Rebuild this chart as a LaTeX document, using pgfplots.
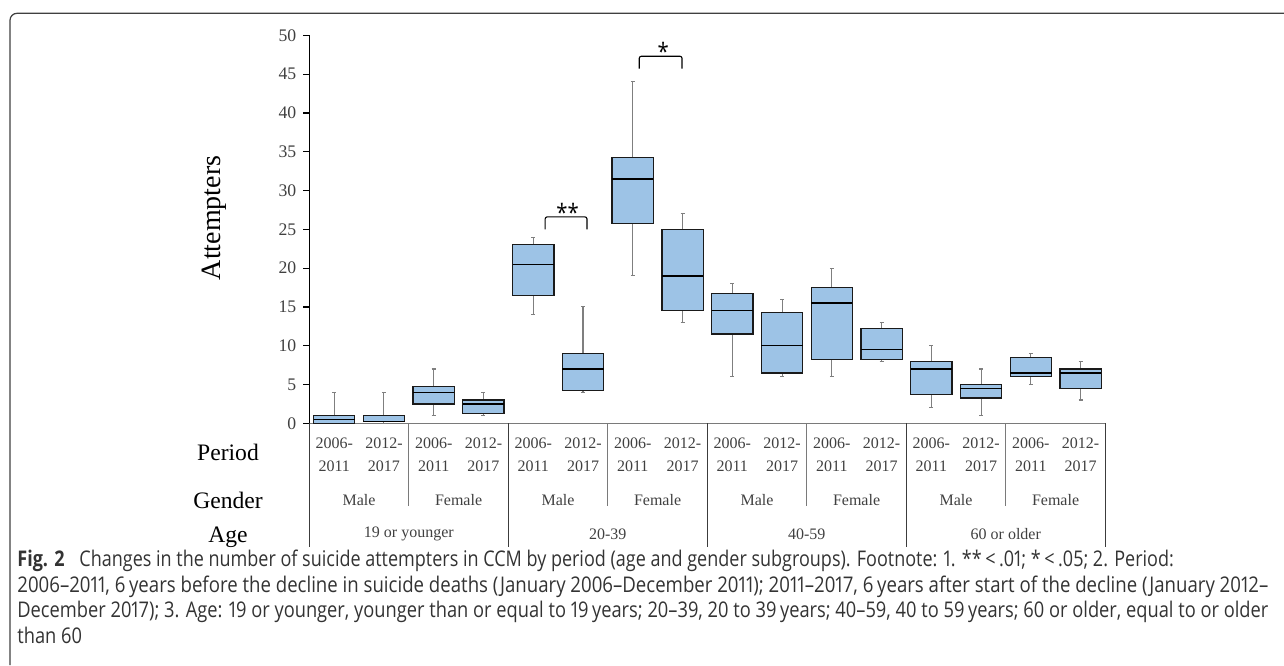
\documentclass[border=0pt]{standalone}
\usepackage{fontspec}
\setmainfont{Liberation Serif}
\newfontfamily\capfont[FakeStretch=0.846, Numbers=Proportional]{Open Sans}
\usepackage{pgfplots}
\pgfplotsset{compat=1.18}
\usepgfplotslibrary{statistics}
\definecolor{boxfill}{HTML}{9DC3E6}
\definecolor{boxedge}{HTML}{1A1A1A}
\definecolor{whisk}{HTML}{7F7F7F}
\definecolor{txt}{HTML}{404040}
\definecolor{linegray}{HTML}{7A7A7A}
\definecolor{captxt}{HTML}{333333}
\begin{document}
\begin{tikzpicture}
\begin{scope}[x=0.5pt,y=-0.5pt]
\path[use as bounding box] (0,0) rectangle (1284,665);
\draw[line width=0.6pt, color=black!75, rounded corners=3.5pt] (10,665) -- (10,13.3) -- (1284,13.3);
\end{scope}
\begin{axis}[
  at={(154.65pt,-211.65pt)}, anchor=south west,
  width=398.1pt, height=194pt, scale only axis,
  xmin=0.5, xmax=16.5, ymin=0, ymax=50,
  axis x line*=bottom, axis y line*=left,
  x axis line style={draw=linegray, line width=0.6pt},
  y axis line style={draw=black, line width=0.6pt},
  xtick=\empty,
  ytick={0,5,...,50},
  tick align=outside, major tick length=3pt,
  ytick style={black, line width=0.6pt},
  yticklabel style={font=\fontsize{8.85}{10}\selectfont, text=txt},
  /pgf/number format/assume math mode=true,
  clip=false,
  boxplot/draw direction=y,
  boxplot/box extend=0.83,
  boxplot/whisker extend=0.08,
  boxplot/every box/.style={draw=boxedge, fill=boxfill, line width=0.65pt},
  boxplot/every whisker/.style={draw=whisk, line width=0.55pt},
  boxplot/every median/.style={draw=black, line width=0.65pt},
]
\addplot[boxplot prepared={draw position=1, lower whisker=0, lower quartile=0, median=0.5, upper quartile=1, upper whisker=4}] coordinates {};
\addplot[boxplot prepared={draw position=2, lower whisker=0, lower quartile=0.2, median=0.2, upper quartile=1, upper whisker=4}] coordinates {};
\addplot[boxplot prepared={draw position=3, lower whisker=1, lower quartile=2.5, median=4, upper quartile=4.75, upper whisker=7}] coordinates {};
\addplot[boxplot prepared={draw position=4, lower whisker=1, lower quartile=1.25, median=2.5, upper quartile=3, upper whisker=4}] coordinates {};
\addplot[boxplot prepared={draw position=5, lower whisker=14, lower quartile=16.5, median=20.5, upper quartile=23, upper whisker=24}] coordinates {};
\addplot[boxplot prepared={draw position=6, lower whisker=4, lower quartile=4.25, median=7, upper quartile=9, upper whisker=15}] coordinates {};
\addplot[boxplot prepared={draw position=7, lower whisker=19, lower quartile=25.75, median=31.5, upper quartile=34.25, upper whisker=44}] coordinates {};
\addplot[boxplot prepared={draw position=8, lower whisker=13, lower quartile=14.5, median=19, upper quartile=25, upper whisker=27}] coordinates {};
\addplot[boxplot prepared={draw position=9, lower whisker=6, lower quartile=11.5, median=14.5, upper quartile=16.75, upper whisker=18}] coordinates {};
\addplot[boxplot prepared={draw position=10, lower whisker=6, lower quartile=6.5, median=10, upper quartile=14.25, upper whisker=16}] coordinates {};
\addplot[boxplot prepared={draw position=11, lower whisker=6, lower quartile=8.25, median=15.5, upper quartile=17.5, upper whisker=20}] coordinates {};
\addplot[boxplot prepared={draw position=12, lower whisker=8, lower quartile=8.25, median=9.5, upper quartile=12.25, upper whisker=13}] coordinates {};
\addplot[boxplot prepared={draw position=13, lower whisker=2, lower quartile=3.75, median=7, upper quartile=8, upper whisker=10}] coordinates {};
\addplot[boxplot prepared={draw position=14, lower whisker=1, lower quartile=3.25, median=4.5, upper quartile=5, upper whisker=7}] coordinates {};
\addplot[boxplot prepared={draw position=15, lower whisker=5, lower quartile=6, median=6.5, upper quartile=8.5, upper whisker=9}] coordinates {};
\addplot[boxplot prepared={draw position=16, lower whisker=3, lower quartile=4.5, median=6.5, upper quartile=7, upper whisker=8}] coordinates {};
% significance brackets
\draw[black, line width=0.55pt, rounded corners=1pt] (axis cs:5.24,25) -- (axis cs:5.24,26.6) -- (axis cs:6.08,26.6) -- (axis cs:6.08,25);
\node[font=\fontsize{12}{14}\selectfont\capfont] at (axis cs:5.69,27.2) {**};
\draw[black, line width=0.55pt, rounded corners=1pt] (axis cs:7.13,45.7) -- (axis cs:7.13,47.3) -- (axis cs:7.99,47.3) -- (axis cs:7.99,45.7);
\node[font=\fontsize{12}{14}\selectfont\capfont] at (axis cs:7.61,47.9) {*};
\end{axis}
\begin{scope}[x=0.5pt,y=-0.5pt]
\node[rotate=90, font=\fontsize{14}{16}\selectfont] at (214,218) {Attempters};
\foreach \k in {0,2,4,6,8} \draw[boxedge!85, line width=0.6pt] ({309.3+\k*99.5},423.3) -- ({309.3+\k*99.5},546.7);
\foreach \k in {1,3,5,7} \draw[linegray, line width=0.6pt] ({309.3+\k*99.5},423.3) -- ({309.3+\k*99.5},505.7);
\foreach \i in {0,2,...,14} {
  \node[align=center, text=txt, font=\fontsize{8}{11.5}\selectfont] at ({334.2+\i*49.76},454.5) {2006-\\2011};
  \node[align=center, text=txt, font=\fontsize{8}{11.5}\selectfont] at ({334.2+(\i+1)*49.76},454.5) {2012-\\2017};
}
\foreach \j in {0,2,4,6} {
  \node[text=txt, font=\fontsize{8}{10}\selectfont] at ({309.3+99.5*(\j+0.5)},500) {Male};
  \node[text=txt, font=\fontsize{8}{10}\selectfont] at ({309.3+99.5*(\j+1.5)},500) {Female};
}
\foreach \a/\lab in {0/19 or younger,1/20-39,2/40-59,3/60 or older}
  \node[text=txt, font=\fontsize{8}{10}\selectfont] at ({309.3+199*(\a+0.5)},534) {\lab};
\node[font=\fontsize{11.8}{14}\selectfont] at (228,452) {Period};
\node[font=\fontsize{11.8}{14}\selectfont] at (228,500) {Gender};
\node[font=\fontsize{11.8}{14}\selectfont] at (228,537) {Age};
% caption
\begin{scope}[every node/.style={anchor=base west, inner sep=0pt, text=captxt, font=\fontsize{10.8}{12}\capfont}]
\node[xscale=0.985] at (17,566) {\textbf{Fig. 2}\hspace{0.7em}Changes in the number of suicide attempters in CCM by period (age and gender subgroups). Footnote: 1. **\,<\,.01; *\,<\,.05; 2. Period:};
\node[xscale=1.019] at (17,592) {2006–2011, 6\,years before the decline in suicide deaths (January 2006–December 2011); 2011–2017, 6\,years after start of the decline (January 2012–};
\node at (17,617.5) {December 2017); 3. Age: 19 or younger, younger than or equal to 19\,years; 20–39, 20 to 39\,years; 40–59, 40 to 59\,years; 60 or older, equal to or older};
\node at (17,643) {than 60};
\end{scope}
\end{scope}
\end{tikzpicture}
\end{document}
